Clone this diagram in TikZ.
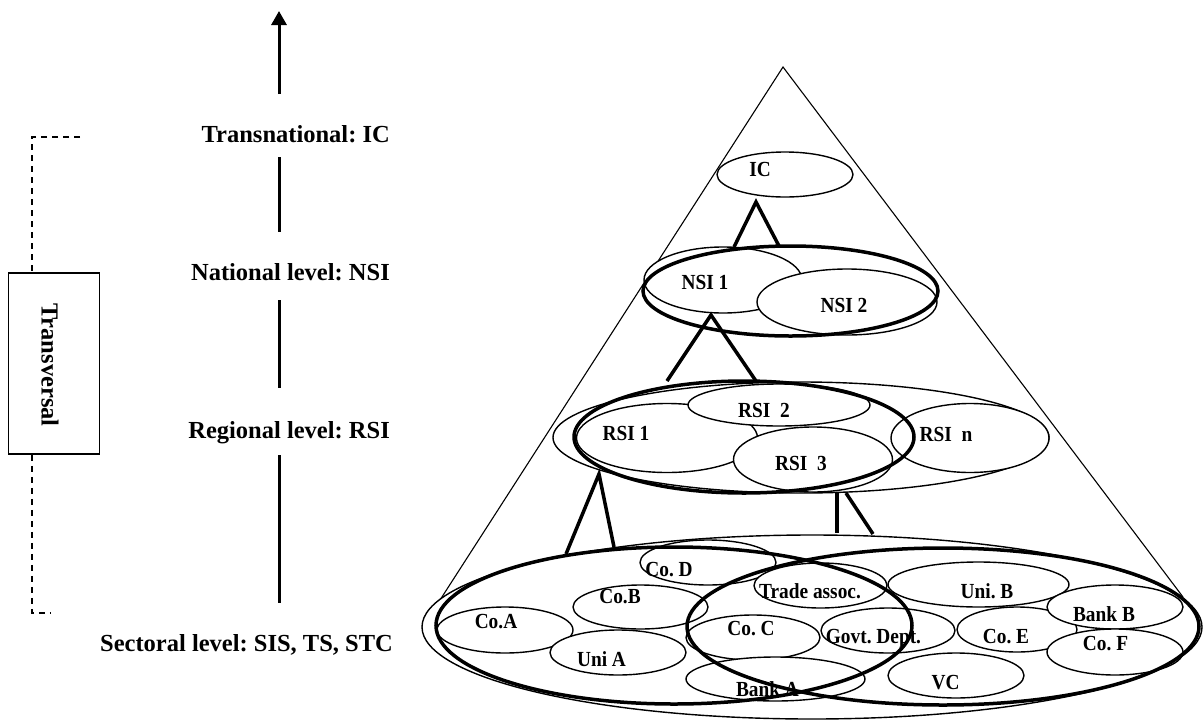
\documentclass[tikz,border=0pt]{standalone}
\usepackage{fontspec}
\setmainfont{Liberation Serif}
\newfontfamily\condserif[FakeStretch=0.9]{Liberation Serif}
\usetikzlibrary{shapes.geometric,arrows.meta}
\frenchspacing
\begin{document}
\begin{tikzpicture}[x=1pt,y=-1pt,
  oval/.style={ellipse, draw, fill=white, line width=1.4pt, inner sep=0pt},
  bigoval/.style={ellipse, draw, line width=3.5pt, inner sep=0pt},
  txt/.style={font=\condserif\bfseries\fontsize{21.5}{23}\selectfont, inner sep=0pt, anchor=base},
  lvl/.style={font=\bfseries\fontsize{24.5}{27}\selectfont, inner sep=0pt, anchor=base east},
  link/.style={line width=3.5pt},
  seg/.style={line width=3pt},
  cone/.style={line width=1.1pt},
  dline/.style={line width=1.2pt, dash pattern=on 6pt off 5pt},
]
\useasboundingbox (0,0) rectangle (1203,721);

% ---------- level scale on the left ----------
\node[lvl] (lt) at (390,142) {Transnational: IC};
\node[lvl] (ln) at (390,280) {National level: NSI};
\node[lvl] (lr) at (390,438) {Regional level: RSI};
\node[lvl] (ls) at (393,651) {Sectoral level: SIS, TS, STC};

\coordinate (a0) at (279,94);
\coordinate (a1) at (279,11);
\coordinate (s1a) at (279,157);
\coordinate (s1b) at (279,232);
\coordinate (s2a) at (279,300);
\coordinate (s2b) at (279,388);
\coordinate (s3a) at (279,455);
\coordinate (s3b) at (279,603);
\draw[seg, -{Triangle[length=14pt,width=15pt]}] (a0) -- (a1);
\draw[seg] (s1a) -- (s1b);
\draw[seg] (s2a) -- (s2b);
\draw[seg] (s3a) -- (s3b);

% ---------- transversal box with dashed bracket ----------
\node[draw, line width=1.5pt, minimum width=91pt, minimum height=181pt, inner sep=0pt] (tv) at (53.8,363.5) {};
\node[rotate=-90, font=\bfseries\fontsize{24.5}{27}\selectfont, inner sep=0pt] (tvt) at (50,365) {Transversal};
\coordinate (dtop) at (80,137);
\coordinate (dtc) at (32,137);
\coordinate (dbc) at (32,613);
\coordinate (dbot) at (51,613);
\draw[dline] (dtop) -- (dtc) -- (dtc |- tv.north);
\draw[dline] (dbc |- tv.south) -- (dbc) -- (dbot);

% ---------- cone ----------
\coordinate (apex) at (783,67);
\coordinate (cl) at (440,600);
\coordinate (cr) at (1183,597);
\draw[cone] (cl) -- (apex) -- (cr);

% ---------- transnational ----------
\node[oval, minimum width=136pt, minimum height=45pt] (ic) at (785,174.5) {};

% ---------- national ----------
\node[oval, minimum width=158pt, minimum height=66pt] (nsi1) at (723,280) {};
\node[oval, minimum width=180pt, minimum height=66pt] (nsi2) at (847,302) {};

% ---------- regional ----------
\node[oval, minimum width=496pt, minimum height=111pt] (rsiall) at (801,437.5) {};
\node[oval, minimum width=181pt, minimum height=69pt] (rsi1) at (667,438) {};
\node[oval, minimum width=182pt, minimum height=42pt] (rsi2) at (779,405) {};
\node[oval, minimum width=159pt, minimum height=65pt] (rsi3) at (813,459.5) {};
\node[oval, minimum width=158pt, minimum height=69pt] (rsin) at (970,438) {};

% ---------- sectoral ----------
\node[oval, minimum width=780pt, minimum height=184pt] (secall) at (812,627) {};
\node[oval, minimum width=136pt, minimum height=46pt] (coA) at (505,630) {};
\node[oval, minimum width=136pt, minimum height=45pt] (uniA) at (618,652.5) {};
\node[oval, minimum width=135pt, minimum height=44pt] (coB) at (640.5,607) {};
\node[oval, minimum width=136pt, minimum height=45pt] (coD) at (708,562.5) {};
\node[oval, minimum width=134pt, minimum height=45pt] (coC) at (753,637.5) {};
\node[oval, minimum width=179pt, minimum height=44pt] (bankA) at (775.5,679) {};
\node[oval, minimum width=133pt, minimum height=45pt] (trade) at (820.5,585.5) {};
\node[oval, minimum width=134pt, minimum height=45pt] (govt) at (888,630.5) {};
\node[oval, minimum width=181pt, minimum height=45pt] (uniB) at (978.5,584.5) {};
\node[oval, minimum width=120pt, minimum height=45pt] (coE) at (1017,629.5) {};
\node[oval, minimum width=136pt, minimum height=44pt] (bankB) at (1115,607) {};
\node[oval, minimum width=136pt, minimum height=46pt] (coF) at (1115,652) {};
\node[oval, minimum width=136pt, minimum height=45pt] (vc) at (956,675.5) {};

% ---------- labels ----------
\node[txt] (tic) at (760,176.7) {IC};
\node[txt] (tnsi1) at (705,289) {NSI 1};
\node[txt] (tnsi2) at (844,312) {NSI 2};
\node[txt] (trsi1) at (626,440.5) {RSI 1};
\node[txt] (trsi2) at (764,417.3) {RSI\ \ 2};
\node[txt] (trsi3) at (801,470) {RSI\ \ 3};
\node[txt] (trsin) at (946,441.7) {RSI\ \ n};
\node[txt] (tcoD) at (669,576.7) {Co. D};
\node[txt] (tcoB) at (620,603.3) {Co.B};
\node[txt] (tcoA) at (496,628.3) {Co.A};
\node[txt] (tuniA) at (601.5,666.7) {Uni A};
\node[txt] (tcoC) at (751,635) {Co. C};
\node[txt] (tbankA) at (767.5,696.7) {Bank A};
\node[txt] (ttrade) at (810,598.3) {Trade assoc.};
\node[txt] (tgovt) at (873.5,643.3) {Govt. Dept.};
\node[txt] (tuniB) at (987,598.3) {Uni. B};
\node[txt] (tbankB) at (1104,621.7) {Bank B};
\node[txt] (tcoE) at (1006,643.3) {Co. E};
\node[txt] (tcoF) at (1105.5,650.7) {Co. F};
\node[txt] (tvc) at (945.5,689.3) {VC};

% ---------- grouping outlines ----------
\node[bigoval, minimum width=295pt, minimum height=90pt] (nsiall) at (790.5,291) {};
\node[bigoval, minimum width=340pt, minimum height=112pt] (rsigrp) at (744,437) {};
\node[bigoval, minimum width=476pt, minimum height=157pt] (secL) at (674,625.5) {};
\node[bigoval, minimum width=512pt, minimum height=157pt] (secR) at (943,626.5) {};

% ---------- links between levels ----------
\coordinate (k1) at (756,202);
\coordinate (k1l) at (734,247);
\coordinate (k1r) at (779,246);
\draw[link] (k1l) -- (k1) -- (k1r);
\coordinate (k2) at (711,315);
\coordinate (k2l) at (667,381);
\coordinate (k2r) at (756,381);
\draw[link] (k2l) -- (k2) -- (k2r);
\coordinate (k3) at (599,474);
\coordinate (k3l) at (566,554);
\coordinate (k3r) at (614,547);
\draw[link] (k3l) -- (k3) -- (k3r);
\coordinate (k4a) at (837,493);
\coordinate (k4b) at (837,533);
\coordinate (k4c) at (846,493);
\coordinate (k4d) at (873,534);
\draw[link] (k4a) -- (k4b);
\draw[link] (k4c) -- (k4d);
\end{tikzpicture}
\end{document}
